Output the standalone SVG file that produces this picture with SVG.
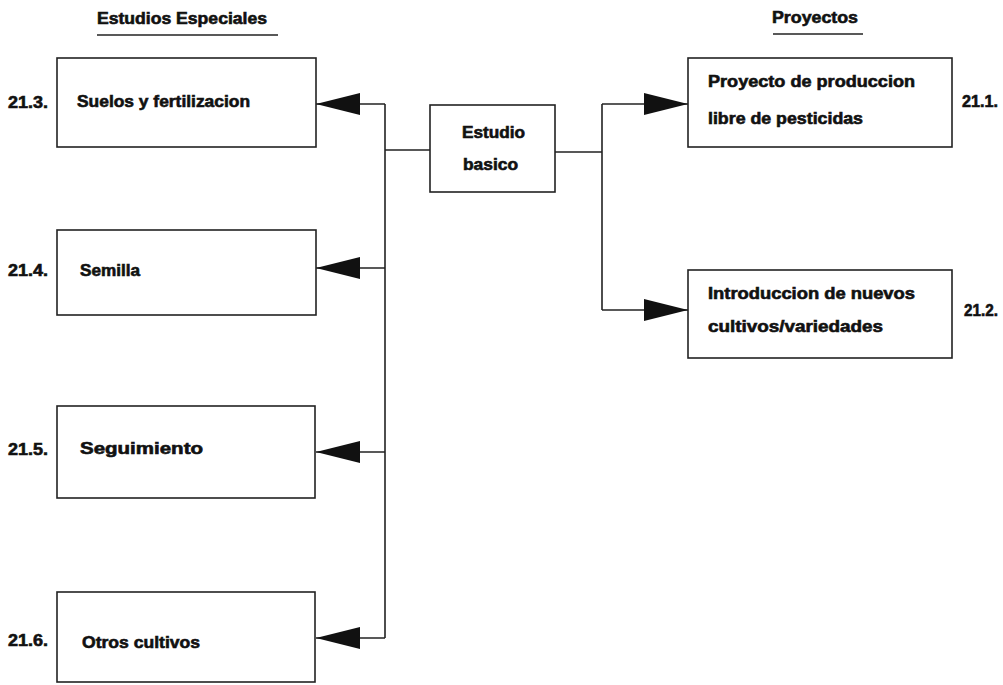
<svg xmlns="http://www.w3.org/2000/svg" width="1003" height="685" viewBox="0 0 1003 685">
<style>
.box{fill:#fff;stroke:#222;stroke-width:1.6}
.ln{fill:none;stroke:#222;stroke-width:1.6}
.t{font-family:"Liberation Sans",Arial,sans-serif;font-weight:bold;font-size:16px;fill:#111;stroke:#111;stroke-width:0.6}
</style>
<defs>
<marker id="ah" viewBox="0 0 44 24" markerWidth="44" markerHeight="24" refX="44" refY="12" orient="auto" markerUnits="userSpaceOnUse">
<polygon points="0,1 44,12 0,23 0,1" fill="#111"/>
</marker>
</defs>
<rect width="1003" height="685" fill="#fff"/>
<g id="headers">
<text class="t" x="97" y="24" textLength="170" lengthAdjust="spacingAndGlyphs">Estudios Especiales</text>
<line class="ln" x1="97" y1="35" x2="278" y2="35"/>
<text class="t" x="772" y="23" textLength="86" lengthAdjust="spacingAndGlyphs">Proyectos</text>
<line class="ln" x1="773" y1="34" x2="863" y2="34"/>
</g>
<g id="connectors">
<path class="ln" d="M430 150 H385 M385 104 V638 M555 152 H602 M602 104 V310"/>
<path class="ln" d="M385 104 H316" marker-end="url(#ah)"/>
<path class="ln" d="M385 268 H316" marker-end="url(#ah)"/>
<path class="ln" d="M385 452 H316" marker-end="url(#ah)"/>
<path class="ln" d="M385 638 H316" marker-end="url(#ah)"/>
<path class="ln" d="M602 104 H688" marker-end="url(#ah)"/>
<path class="ln" d="M602 310 H688" marker-end="url(#ah)"/>
</g>
<g id="estudio-basico">
<rect class="box" x="430" y="105" width="125" height="87"/>
<text class="t" x="462" y="138" textLength="63" lengthAdjust="spacingAndGlyphs">Estudio</text>
<text class="t" x="463" y="170" textLength="55" lengthAdjust="spacingAndGlyphs">basico</text>
</g>
<g id="n21-3">
<rect class="box" x="57" y="58" width="259" height="89"/>
<text class="t" x="77" y="107" textLength="173" lengthAdjust="spacingAndGlyphs">Suelos y fertilizacion</text>
<text class="t" x="8" y="108" textLength="40" lengthAdjust="spacingAndGlyphs">21.3.</text>
</g>
<g id="n21-4">
<rect class="box" x="57" y="230" width="259" height="85"/>
<text class="t" x="80" y="276" textLength="60" lengthAdjust="spacingAndGlyphs">Semilla</text>
<text class="t" x="8" y="276" textLength="40" lengthAdjust="spacingAndGlyphs">21.4.</text>
</g>
<g id="n21-5">
<rect class="box" x="57" y="406" width="258" height="92"/>
<text class="t" x="80" y="454" textLength="123" lengthAdjust="spacingAndGlyphs">Seguimiento</text>
<text class="t" x="8" y="455" textLength="40" lengthAdjust="spacingAndGlyphs">21.5.</text>
</g>
<g id="n21-6">
<rect class="box" x="57" y="592" width="258" height="90"/>
<text class="t" x="82" y="648" textLength="118" lengthAdjust="spacingAndGlyphs">Otros cultivos</text>
<text class="t" x="8" y="646" textLength="40" lengthAdjust="spacingAndGlyphs">21.6.</text>
</g>
<g id="n21-1">
<rect class="box" x="688" y="58" width="264" height="89"/>
<text class="t" x="708" y="87" textLength="207" lengthAdjust="spacingAndGlyphs">Proyecto de produccion</text>
<text class="t" x="708" y="124" textLength="155" lengthAdjust="spacingAndGlyphs">libre de pesticidas</text>
<text class="t" x="962" y="107" textLength="36" lengthAdjust="spacingAndGlyphs">21.1.</text>
</g>
<g id="n21-2">
<rect class="box" x="688" y="270" width="264" height="88"/>
<text class="t" x="708" y="299" textLength="207" lengthAdjust="spacingAndGlyphs">Introduccion de nuevos</text>
<text class="t" x="708" y="332" textLength="175" lengthAdjust="spacingAndGlyphs">cultivos/variedades</text>
<text class="t" x="964" y="316" textLength="34" lengthAdjust="spacingAndGlyphs">21.2.</text>
</g>
</svg>
